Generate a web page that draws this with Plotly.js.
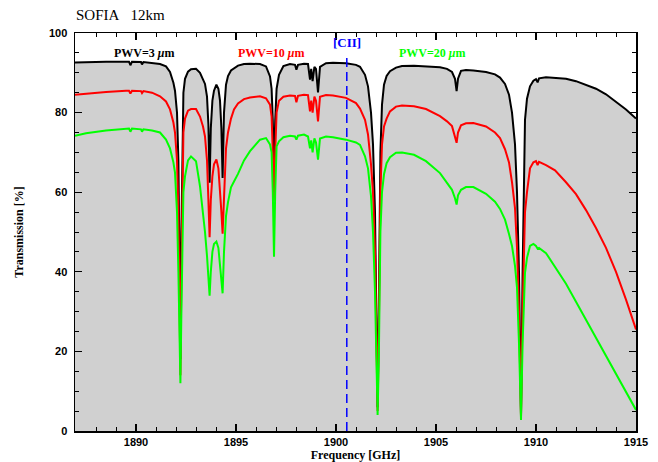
<!DOCTYPE html>
<html>
<head>
<meta charset="utf-8">
<script src="https://cdn.plot.ly/plotly-3.0.1.min.js"></script>
<style>
  body { margin: 0; background: #fff; }
  #chart { width: 658px; height: 462px; }
</style>
</head>
<body>
<div id="chart"></div>
<script>
// Frequency grid (GHz), grouped by spectral feature
var freqGHz = [
  1886.95, 1887.5, 1888.5, 1889.5, 1889.65, 1889.72, 1889.8, 1890.25, 1890.3, 1890.37, 1890.8,
  1891.2, 1891.5, 1891.7, 1891.87, 1891.95, 1892.05, 1892.12, 1892.17, 1892.22, 1892.27, 1892.32, 1892.37, 1892.45, 1892.6, 1892.75,
  1893.0, 1893.2, 1893.35, 1893.45, 1893.55, 1893.62, 1893.68, 1893.74, 1893.82, 1893.9, 1894.02, 1894.12, 1894.2, 1894.27, 1894.33, 1894.4, 1894.5, 1894.6, 1894.75, 1894.9, 1895.1,
  1895.4, 1895.7, 1896.2, 1896.5, 1896.7, 1896.78, 1896.84, 1896.9, 1896.96, 1897.03, 1897.15, 1897.37, 1897.7,
  1897.95, 1898.02, 1898.1, 1898.4, 1898.6, 1898.7, 1898.76, 1898.83, 1898.92, 1899.0, 1899.1, 1899.2, 1899.5,
  1899.85, 1900.5, 1901.0, 1901.2, 1901.45, 1901.6, 1901.75, 1901.85, 1901.95, 1902.02, 1902.08, 1902.14, 1902.22, 1902.3, 1902.4, 1902.53, 1902.7, 1903.0, 1903.3, 1903.9, 1904.5, 1905.2,
  1905.55, 1905.8, 1905.95, 1906.03, 1906.1, 1906.25, 1906.5, 1906.87, 1907.5, 1907.95, 1908.2, 1908.45,
  1908.65, 1908.8, 1908.95, 1909.05, 1909.15, 1909.25, 1909.33, 1909.45, 1909.55, 1909.7, 1909.87, 1910.0, 1910.08, 1910.15, 1910.5, 1910.95,
  1911.5, 1912.0, 1912.5, 1913.0, 1913.5, 1914.0, 1914.5, 1915.0
];

// Transmission [%] for PWV = 3 um
var transPwv3 = [
  92.6, 92.7, 92.8, 92.8, 92.8, 91.9, 92.8, 92.7, 92.1, 92.7, 92.5,
  92.2, 91.6, 90.2, 87.5, 85.5, 80, 68, 45, 18, 50, 75, 85, 88.5, 90.3, 90.9,
  91.0, 90.0, 88.5, 87.2, 84, 77, 62.4, 76, 83, 85.5, 87.0, 86, 83, 76, 63.6, 80, 87, 89.2, 90.6, 91.2, 91.8,
  92.2, 92.3, 92.2, 91.6, 89.1, 86, 78, 66, 78, 86, 89.5, 91.7, 92.2,
  92.0, 90.8, 92.0, 92.3, 92.2, 88.3, 91.0, 87.9, 91.5, 91.0, 85.1, 91.5, 92.4,
  92.5, 92.4, 92.0, 91.5, 89.5, 86.6, 80, 72, 55, 30, 6, 30, 70, 82, 87, 89.2, 90.4, 91.3, 91.7, 91.8, 91.7, 91.4,
  91.0, 90.2, 88.5, 85.4, 88.5, 90.5, 90.7, 90.6, 90.2, 89.6, 88.8, 87.2,
  84.5, 80, 72, 60, 40, 4, 40, 78.2, 83.5, 86.6, 88.0, 88.4, 87.6, 88.6, 88.9, 88.8,
  88.5, 87.9, 87.0, 86.0, 84.6, 82.8, 80.8, 78.5
];

// Transmission [%] for PWV = 10 um
var transPwv10 = [
  84.5, 84.8, 85.2, 85.5, 85.5, 84.8, 85.5, 85.4, 84.9, 85.4, 85.0,
  84.1, 82.8, 80.8, 77.5, 75.0, 68, 55, 35, 14, 40, 65, 75, 78.5, 80.5, 80.9,
  80.9, 79.0, 76.5, 74.0, 68, 58, 48.7, 58, 64, 67, 68.2, 66, 61, 55, 49.6, 60, 71, 75, 78.5, 80.8, 82.3,
  83.4, 83.8, 84.1, 83.6, 82.0, 79, 70, 58, 70, 80, 83.0, 84.0, 84.3,
  84.2, 82.6, 84.2, 84.5, 84.4, 80.3, 83.0, 80.0, 84.0, 83.0, 77.8, 84.0, 84.4,
  84.3, 83.7, 82.4, 81.0, 78.2, 74.5, 67, 60, 45, 25, 5, 25, 60, 72, 76.5, 78.5, 80.3, 81.5, 81.8, 81.6, 80.9, 79.1,
  77.8, 76.6, 74.0, 72.4, 75.0, 76.8, 77.3, 77.4, 76.5, 75.0, 73.6, 70.8,
  67.5, 62.5, 56, 46, 30, 3.5, 30, 55, 60, 66.0, 67.5, 67.8, 66.8, 67.6, 66.8, 65.5,
  62.5, 59.5, 55.5, 51.0, 46.0, 40.0, 33.0, 25.5
];

// Transmission [%] for PWV = 20 um
var transPwv20 = [
  74.2, 74.8, 75.5, 76.0, 76.0, 75.2, 76.0, 75.8, 75.2, 75.8, 75.5,
  75.0, 73.2, 71.0, 67.5, 64.9, 55, 40, 25, 12, 30, 52, 60, 64, 68.0, 69.0,
  67.8, 61.5, 55, 50, 44, 38, 34.0, 40, 45, 47, 47.6, 46, 42, 38, 34.6, 45, 54, 57.5, 61.2, 62.7, 64.6,
  68.0, 70.3, 73.2, 73.6, 72.0, 70, 60, 43.8, 60, 71.5, 72.8, 73.8, 74.2,
  74.0, 73.2, 74.2, 74.5, 74.0, 71.0, 73.0, 70.0, 73.5, 72.5, 68.2, 73.5, 74.0,
  73.8, 73.2, 72.5, 71.9, 69.0, 66.0, 59, 50, 35, 18, 4, 18, 50, 60, 64.5, 67.3, 68.8, 69.9, 70.0, 69.4, 67.8, 64.8,
  62.5, 60.6, 58.5, 56.9, 59.2, 60.6, 61.3, 61.3, 59.6, 57.6, 55.8, 53.1,
  49.5, 46.5, 41.5, 36, 22, 2.8, 22, 39.7, 43.5, 46.5, 47.0, 46.5, 45.8, 46.0, 44.7, 41.3,
  37.0, 32.5, 28.0, 23.5, 19.0, 14.5, 10.0, 5.3
];

var ciiFreq = 1900.54;   // [CII] line
var xRange = [1886.95, 1915];
var yRange = [0, 100];

var serif = '"Liberation Serif", "DejaVu Serif", serif';
var sans = '"Liberation Sans", Arial, sans-serif';

var traces = [
  { x: freqGHz, y: transPwv3, type: 'scatter', mode: 'lines',
    line: { color: '#000000', width: 2 },
    fill: 'tozeroy', fillcolor: '#d0d0d0', name: 'PWV=3' },
  { x: freqGHz, y: transPwv10, type: 'scatter', mode: 'lines',
    line: { color: '#ff0000', width: 2 }, name: 'PWV=10' },
  { x: freqGHz, y: transPwv20, type: 'scatter', mode: 'lines',
    line: { color: '#00ff00', width: 2 }, name: 'PWV=20' }
];

var axisCommon = {
  showline: true, linecolor: '#000', linewidth: 1.5, mirror: 'ticks',
  ticks: 'inside', ticklen: 7, tickwidth: 1.2, tickcolor: '#000',
  showgrid: false, zeroline: false,
  tickfont: { family: sans, size: 11, color: '#000', weight: 'bold' }
};

var layout = {
  width: 658, height: 462,
  margin: { l: 75, r: 22, t: 33, b: 31 },
  paper_bgcolor: '#fff', plot_bgcolor: '#fff',
  showlegend: false,
  title: { text: 'SOFIA\u00a0\u00a0\u00a012km', xref: 'container', yref: 'container',
           x: 76 / 658, xanchor: 'left', y: 1 - 15 / 462, yanchor: 'middle',
           font: { family: serif, size: 15, color: '#000' } },
  xaxis: Object.assign({}, axisCommon, {
    range: xRange, tick0: 1890, dtick: 5, ticklabelstandoff: 0,
    minor: { dtick: 1, ticklen: 4, tickwidth: 1, tickcolor: '#000', ticks: 'inside' },
    title: { text: 'Frequency [GHz]', standoff: 3,
             font: { family: serif, size: 12, color: '#000', weight: 'bold' } }
  }),
  yaxis: Object.assign({}, axisCommon, {
    range: yRange, tick0: 0, dtick: 20, ticklabelstandoff: 4,
    minor: { dtick: 5, ticklen: 4, tickwidth: 1, tickcolor: '#000', ticks: 'inside' },
    title: { text: 'Transmission [%]', standoff: 22,
             font: { family: serif, size: 12, color: '#000', weight: 'bold' } }
  }),
  shapes: [
    { type: 'line', xref: 'x', yref: 'y', x0: ciiFreq, x1: ciiFreq, y0: 0, y1: 94.2,
      line: { color: '#0000ff', width: 1.5, dash: '9px,5px' } }
  ],
  annotations: [
    { x: 1890.4, y: 95.1, xref: 'x', yref: 'y', showarrow: false,
      text: 'PWV=3 <i>\u03bc</i>m', font: { family: serif, size: 12, color: '#000', weight: 'bold' } },
    { x: 1896.75, y: 95.1, xref: 'x', yref: 'y', showarrow: false,
      text: 'PWV=10 <i>\u03bc</i>m', font: { family: serif, size: 12, color: '#ff0000', weight: 'bold' } },
    { x: 1904.8, y: 95.1, xref: 'x', yref: 'y', showarrow: false,
      text: 'PWV=20 <i>\u03bc</i>m', font: { family: serif, size: 12, color: '#00ff00', weight: 'bold' } },
    { x: ciiFreq, y: 97.7, xref: 'x', yref: 'y', showarrow: false,
      text: '[CII]', font: { family: serif, size: 13, color: '#0000ff', weight: 'bold' } }
  ]
};

Plotly.newPlot('chart', traces, layout, { staticPlot: true, displayModeBar: false });
</script>
</body>
</html>
